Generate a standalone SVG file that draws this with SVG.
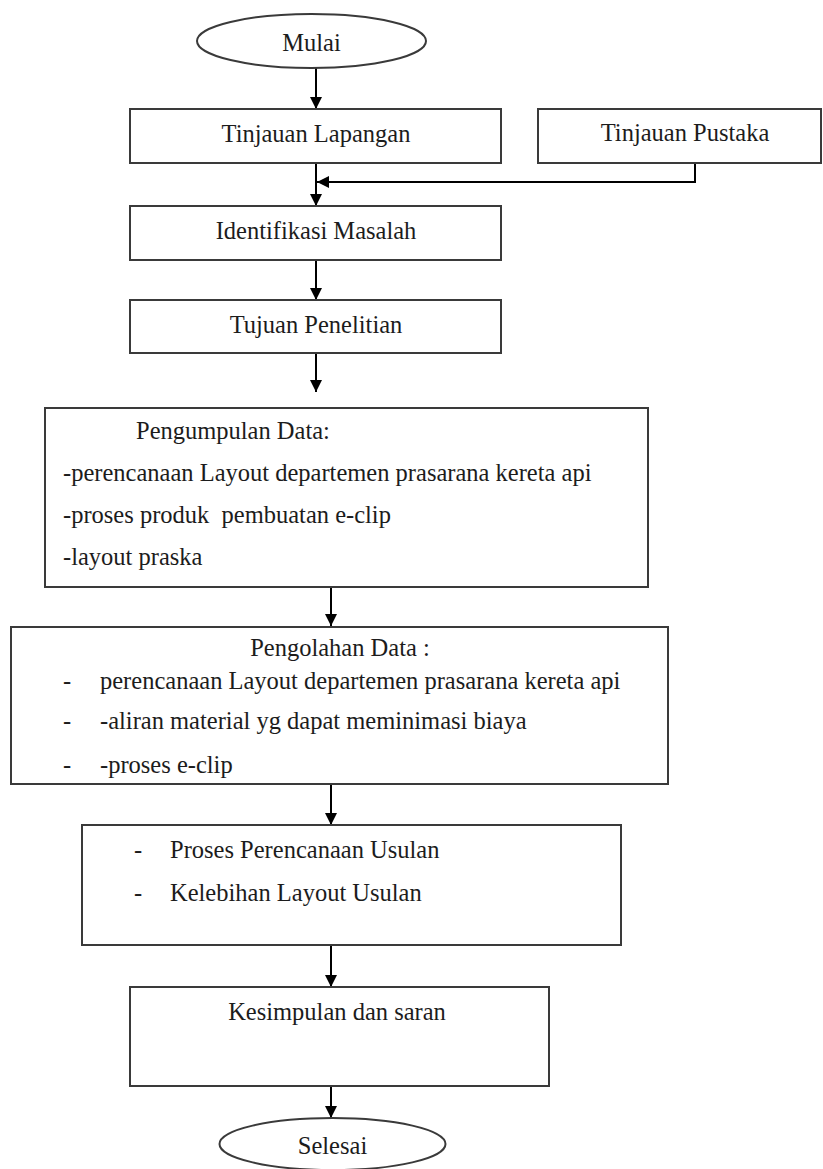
<svg xmlns="http://www.w3.org/2000/svg" width="823" height="1169" viewBox="0 0 823 1169">
<style>
.box{fill:#fff;stroke:#3a3a3a;stroke-width:2}
.t{font-family:"Liberation Serif","Times New Roman",serif;font-size:24.5px;fill:#1c1c1c}
.c{text-anchor:middle}
.ln{fill:none;stroke:#000;stroke-width:2}
</style>
<defs>
<marker id="ah" viewBox="0 0 12 12" refX="12" refY="6" markerWidth="12" markerHeight="12" markerUnits="userSpaceOnUse" orient="auto">
<path d="M0,0 L12,6 L0,12 Z" fill="#000"/>
</marker>
</defs>
<rect width="823" height="1169" fill="#fff"/>
<g id="connectors">
<line class="ln" x1="316" y1="68" x2="316" y2="109" marker-end="url(#ah)"/>
<line class="ln" x1="316" y1="163" x2="316" y2="206" marker-end="url(#ah)"/>
<polyline class="ln" points="695,163 695,182 317,182" marker-end="url(#ah)"/>
<line class="ln" x1="316" y1="260" x2="316" y2="300" marker-end="url(#ah)"/>
<line class="ln" x1="316" y1="353" x2="316" y2="392" marker-end="url(#ah)"/>
<line class="ln" x1="331" y1="587" x2="331" y2="626" marker-end="url(#ah)"/>
<line class="ln" x1="331" y1="784" x2="331" y2="825" marker-end="url(#ah)"/>
<line class="ln" x1="331" y1="945" x2="331" y2="987" marker-end="url(#ah)"/>
<line class="ln" x1="331" y1="1086" x2="331" y2="1118" marker-end="url(#ah)"/>
</g>
<g id="mulai">
<ellipse class="box" cx="311.5" cy="41" rx="114.5" ry="27"/>
<text class="t c" x="311.5" y="51">Mulai</text>
</g>
<g id="tinjauan-lapangan">
<rect class="box" x="130" y="109" width="371" height="54"/>
<text class="t c" x="316" y="142">Tinjauan Lapangan</text>
</g>
<g id="tinjauan-pustaka">
<rect class="box" x="538" y="109" width="283" height="54"/>
<text class="t c" x="685" y="141">Tinjauan Pustaka</text>
</g>
<g id="identifikasi">
<rect class="box" x="130" y="206" width="371" height="54"/>
<text class="t c" x="316" y="239">Identifikasi Masalah</text>
</g>
<g id="tujuan">
<rect class="box" x="130" y="300" width="371" height="53"/>
<text class="t c" x="316" y="333">Tujuan Penelitian</text>
</g>
<g id="pengumpulan">
<rect class="box" x="45" y="408" width="603" height="179"/>
<text class="t" x="136" y="439">Pengumpulan Data:</text>
<text class="t" x="63" y="481">-perencanaan Layout departemen prasarana kereta api</text>
<text class="t" x="63" y="523" xml:space="preserve">-proses produk  pembuatan e-clip</text>
<text class="t" x="63" y="565">-layout praska</text>
</g>
<g id="pengolahan">
<rect class="box" x="11" y="627" width="657" height="157"/>
<text class="t c" x="340" y="656">Pengolahan Data :</text>
<text class="t" x="63" y="689">-</text>
<text class="t" x="100" y="689">perencanaan Layout departemen prasarana kereta api</text>
<text class="t" x="63" y="729">-</text>
<text class="t" x="100" y="729">-aliran material yg dapat meminimasi biaya</text>
<text class="t" x="63" y="773">-</text>
<text class="t" x="100" y="773">-proses e-clip</text>
</g>
<g id="usulan">
<rect class="box" x="82" y="825" width="539" height="120"/>
<text class="t" x="134" y="858">-</text>
<text class="t" x="170" y="858">Proses Perencanaan Usulan</text>
<text class="t" x="134" y="901">-</text>
<text class="t" x="170" y="901">Kelebihan Layout Usulan</text>
</g>
<g id="kesimpulan">
<rect class="box" x="130" y="987" width="419" height="99"/>
<text class="t c" x="337" y="1020">Kesimpulan dan saran</text>
</g>
<g id="selesai">
<ellipse class="box" cx="332.5" cy="1144" rx="113" ry="26"/>
<text class="t c" x="332.5" y="1154">Selesai</text>
</g>
</svg>
